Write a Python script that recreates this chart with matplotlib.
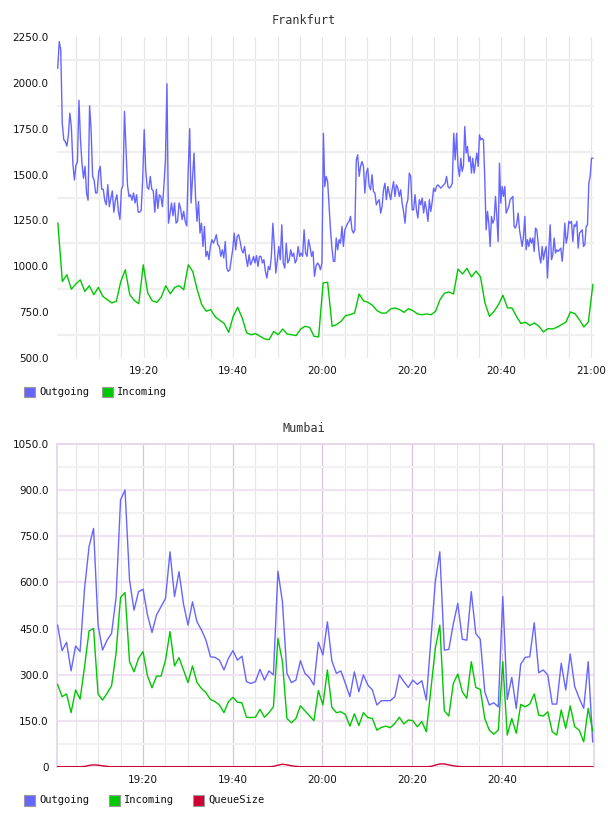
import numpy as np
import matplotlib
matplotlib.use("Agg")
import matplotlib.pyplot as plt
from matplotlib.patches import Rectangle

W, H = 608, 816

# times are minutes after 19:00

# Frankfurt outgoing, read in four stretches (~one sample every 20 s)
fra_out_1 = [2080, 2225, 2180, 1780, 1690, 1680, 1655, 1710, 1835, 1760,
             1560, 1470, 1550, 1570, 1905, 1690, 1560, 1480, 1545, 1400,
             1360, 1875, 1745, 1490, 1470, 1400, 1400, 1515, 1545, 1420,
             1420, 1360, 1335, 1445, 1325, 1370, 1410, 1295, 1360, 1390,
             1300, 1255, 1420, 1440, 1845, 1635, 1440, 1380, 1390, 1360,
             1400, 1345, 1390, 1295, 1295, 1305, 1470, 1745, 1525, 1430,
             1420, 1490, 1420, 1410, 1295, 1420, 1315, 1390, 1380, 1325,
             1440, 1580, 1995, 1235, 1285, 1345, 1275, 1345, 1235, 1245,
             1345, 1315, 1255, 1300, 1245, 1220, 1525, 1750]
fra_out_2 = [1345, 1480, 1617, 1380, 1245, 1353, 1181, 1235, 1108, 1217,
             1054, 1081, 1036, 1108, 1145, 1126, 1145, 1172, 1117, 1108,
             1054, 1090, 1045, 1135, 990, 972, 981, 1036, 1090, 1181,
             1090, 1163, 1172, 1135, 1090, 1072, 1108, 1045, 999, 1063,
             1008, 1027, 1054, 1018, 1058, 999, 1054, 1054, 1018, 1036,
             972, 936, 999, 981, 1054, 1235, 1108, 963, 1036, 1108,
             1036, 1226, 1018, 990, 1126, 1018, 1036, 1090, 1054, 1072,
             1018, 1036, 1108, 1054, 1072, 1054, 1199, 1072, 1054, 1145,
             1108, 1054, 1081, 945, 999, 1018, 1008, 981, 1018, 1725]
fra_out_3 = [1435, 1490, 1462, 1330, 1200, 1100, 1027, 1027, 1154, 1090,
             1145, 1126, 1217, 1108, 1199, 1217, 1235, 1245, 1272, 1199,
             1181, 1199, 1580, 1608, 1490, 1545, 1571, 1545, 1399, 1508,
             1535, 1435, 1417, 1499, 1408, 1399, 1335, 1353, 1363, 1290,
             1326, 1417, 1453, 1363, 1435, 1399, 1363, 1417, 1462, 1381,
             1444, 1426, 1381, 1417, 1344, 1299, 1235, 1335, 1363, 1508,
             1490, 1308, 1308, 1390, 1308, 1263, 1363, 1335, 1372, 1290,
             1353, 1308, 1245, 1363, 1299, 1353, 1426, 1408, 1435, 1444,
             1435, 1426, 1435, 1444, 1453, 1490, 1435, 1426, 1435, 1453,
             1725, 1580, 1725, 1545, 1490]
fra_out_4 = [1589, 1517, 1545, 1762, 1617, 1653, 1571, 1599, 1508, 1589,
             1508, 1562, 1617, 1545, 1717, 1689, 1698, 1689, 1471, 1199,
             1299, 1235, 1108, 1272, 1235, 1254, 1381, 1272, 1135, 1562,
             1344, 1435, 1381, 1435, 1290, 1308, 1326, 1363, 1372, 1381,
             1217, 1208, 1235, 1290, 1199, 1154, 1108, 1163, 1272, 1090,
             1145, 1108, 1154, 1126, 1154, 1081, 1208, 1199, 1126, 1054,
             1018, 1108, 1036, 1081, 1108, 936, 1090, 1226, 1036, 1063,
             1154, 1072, 1090, 1081, 1090, 1099, 1027, 1108, 1235, 1126,
             1163, 1245, 1235, 1245, 1135, 1226, 1217, 1245, 1099, 1181,
             1190, 1199, 1108, 1117, 1217, 1226, 1453, 1490, 1589, 1589]
fra_out_spans = [(0.81, 30.32), (30.62, 60.21), (60.51, 90.62), (90.92, 120.44)]

# Frankfurt incoming, one sample a minute
fra_in = [1235, 917, 954, 875, 904, 926, 863, 894, 845, 885,
          836, 818, 800, 809, 917, 981, 845, 814, 796, 1008,
          854, 812, 803, 832, 894, 850, 885, 894, 872, 1008,
          972, 872, 791, 755, 764, 724, 706, 688, 640, 727,
          776, 718, 637, 627, 633, 618, 604, 600, 645, 627,
          658, 631, 627, 622, 658, 673, 667, 618, 615, 909,
          913, 673, 682, 700, 731, 736, 745, 849, 812, 803,
          787, 758, 745, 745, 767, 773, 764, 749, 769, 758,
          740, 736, 740, 736, 754, 818, 854, 860, 849, 985,
          958, 989, 942, 974, 942, 800, 727, 754, 791, 842,
          773, 773, 727, 688, 695, 677, 691, 673, 642, 660,
          658, 667, 682, 695, 751, 742, 709, 669, 697, 901]
fra_in_span = (0.84, 120.45)

# Mumbai, one sample a minute
mum_out = [461, 378, 405, 312, 393, 375, 580, 717, 776, 461,
           380, 412, 434, 550, 869, 901, 608, 510, 570, 578,
           494, 437, 494, 521, 548, 700, 554, 635, 530, 461,
           537, 472, 445, 412, 358, 356, 347, 315, 353, 378,
           347, 360, 277, 271, 277, 317, 282, 312, 299, 637,
           537, 304, 274, 282, 345, 304, 290, 266, 405, 364,
           472, 344, 304, 312, 271, 228, 309, 244, 299, 266,
           250, 201, 215, 215, 215, 228, 299, 277, 258, 282,
           268, 280, 217, 410, 603, 700, 380, 382, 465, 532,
           415, 412, 570, 434, 415, 244, 201, 208, 195, 554,
           219, 291, 190, 334, 356, 358, 469, 306, 315, 299,
           204, 204, 337, 250, 367, 261, 223, 190, 342, 81]
mum_in = [268, 228, 237, 176, 250, 220, 326, 442, 450, 237,
          217, 239, 263, 369, 551, 567, 342, 309, 353, 375,
          295, 257, 295, 295, 347, 440, 328, 355, 315, 274,
          328, 274, 255, 241, 219, 212, 201, 176, 212, 226,
          210, 208, 161, 160, 161, 187, 161, 176, 195, 418,
          342, 157, 143, 157, 198, 182, 166, 150, 248, 201,
          315, 193, 176, 179, 170, 132, 172, 134, 176, 160,
          157, 119, 128, 132, 127, 141, 161, 139, 152, 150,
          130, 147, 114, 250, 385, 461, 182, 165, 271, 302,
          244, 223, 342, 258, 252, 157, 119, 106, 119, 342,
          103, 157, 109, 203, 195, 204, 237, 168, 165, 179,
          114, 103, 185, 125, 198, 130, 119, 81, 190, 117]
mum_queue = [0, 0, 0, 0, 0, 0, 1, 4, 6, 5, 3, 1, 0, 0, 0, 0, 0, 0, 0, 0,
             0, 0, 0, 0, 0, 0, 0, 0, 0, 0, 0, 0, 0, 0, 0, 0, 0, 0, 0, 0,
             0, 0, 0, 0, 0, 0, 0, 0, 1, 5, 8, 6, 3, 1, 0, 0, 0, 0, 0, 0,
             0, 0, 0, 0, 0, 0, 0, 0, 0, 0, 0, 0, 0, 0, 0, 0, 0, 0, 0, 0,
             0, 0, 0, 1, 5, 9, 9, 6, 3, 1, 0, 0, 0, 0, 0, 0, 0, 0, 0, 0,
             0, 0, 0, 0, 0, 0, 0, 0, 0, 0, 0, 0, 0, 0, 0, 0, 0, 0, 0, 0]
mum_span = (0.97, 120.28)

tick_minutes = [20, 40, 60, 80, 100, 120]
tick_labels = ["19:20", "19:40", "20:00", "20:20", "20:40", "21:00"]

BLUE = "#6666ff"
GREEN = "#00c800"
RED = "#cc0033"

fig = plt.figure(figsize=(W / 100, H / 100), dpi=100)


def px_axes(left, top, right, bottom):
    return fig.add_axes([left / W, 1 - bottom / H, (right - left) / W, (bottom - top) / H])


def legend_row(y, items):
    for x, label, color in items:
        fig.add_artist(Rectangle((x / W, 1 - (y + 5.5) / H), 11 / W, 11 / H,
                                 transform=fig.transFigure, facecolor=color,
                                 edgecolor="#999999", lw=0.8))
        fig.text((x + 15) / W, 1 - y / H, label, family="DejaVu Sans Mono",
                 size=7.5, va="center", color="#111111")


# ---- Frankfurt ----
ax1 = px_axes(57, 37, 594, 358)
t_out = np.concatenate([np.linspace(a, b, len(s)) for (a, b), s in
                        zip(fra_out_spans, [fra_out_1, fra_out_2, fra_out_3, fra_out_4])])
v_out = fra_out_1 + fra_out_2 + fra_out_3 + fra_out_4
ax1.plot(t_out, v_out, color=BLUE, lw=1.0, zorder=3)
ax1.plot(np.linspace(*fra_in_span, len(fra_in)), fra_in, color=GREEN, lw=1.0, zorder=3)
ax1.set_xlim(0.65, 120.7)
ax1.set_ylim(500, 2250)
ax1.set_xticks(tick_minutes)
ax1.set_xticklabels(tick_labels)
ax1.set_xticks(np.arange(5, 121, 5), minor=True)
ax1.set_yticks(np.arange(500, 2251, 250))
ax1.set_yticklabels(["%.1f" % v for v in np.arange(500, 2251, 250)])
ax1.set_yticks(np.arange(625, 2250, 250), minor=True)
ax1.grid(which="minor", axis="y", color="#efefef", lw=1.6)
ax1.grid(which="both", axis="x", color="#e4e4e4", lw=0.8)
ax1.set_axisbelow(True)
ax1.tick_params(which="both", length=0, labelsize=7.5, pad=6, colors="#111111")
for s in ax1.spines.values():
    s.set_visible(False)

fig.text(0.5, 1 - 20 / H, "Frankfurt", ha="center", va="center",
         family="DejaVu Sans Mono", size=8.5, color="#333333")
legend_row(392, [(24, "Outgoing", BLUE), (101.7, "Incoming", GREEN)])

# ---- Mumbai ----
ax2 = px_axes(57, 444.3, 594, 766.7)
t_mum = np.linspace(*mum_span, len(mum_out))
ax2.plot(t_mum, mum_out, color=BLUE, lw=1.0, zorder=3)
ax2.plot(t_mum, mum_in, color=GREEN, lw=1.0, zorder=3)
ax2.plot(t_mum, mum_queue, color=RED, lw=1.0, zorder=4)
ax2.set_xlim(0.84, 120.57)
ax2.set_ylim(0, 1050)
ax2.set_xticks(tick_minutes[:-1])
ax2.set_xticklabels(tick_labels[:-1])
ax2.set_xticks([m for m in range(5, 120, 5) if m % 20], minor=True)
ax2.set_yticks(np.arange(0, 1051, 150))
ax2.set_yticklabels(["0"] + ["%.1f" % v for v in np.arange(150, 1051, 150)])
ax2.set_yticks(np.arange(75, 1050, 150), minor=True)
ax2.grid(which="major", axis="y", color="#f0e2f2", lw=1.5)
ax2.grid(which="minor", axis="y", color="#f1f1f1", lw=1.5)
ax2.grid(which="major", axis="x", color="#d8c2dc", lw=0.9)
ax2.grid(which="minor", axis="x", color="#e6e6e6", lw=0.8)
ax2.set_axisbelow(True)
ax2.tick_params(which="both", length=0, labelsize=7.5, pad=6, colors="#111111")
for side, s in ax2.spines.items():
    if side == "bottom":
        s.set_visible(False)
    else:
        s.set_color("#e8d6ec")
        s.set_linewidth(1.3)

fig.text(0.5, 1 - 429 / H, "Mumbai", ha="center", va="center",
         family="DejaVu Sans Mono", size=8.5, color="#333333")
legend_row(800, [(24, "Outgoing", BLUE), (108.7, "Incoming", GREEN),
                 (193, "QueueSize", RED)])

fig.savefig("out.png", dpi=100)
